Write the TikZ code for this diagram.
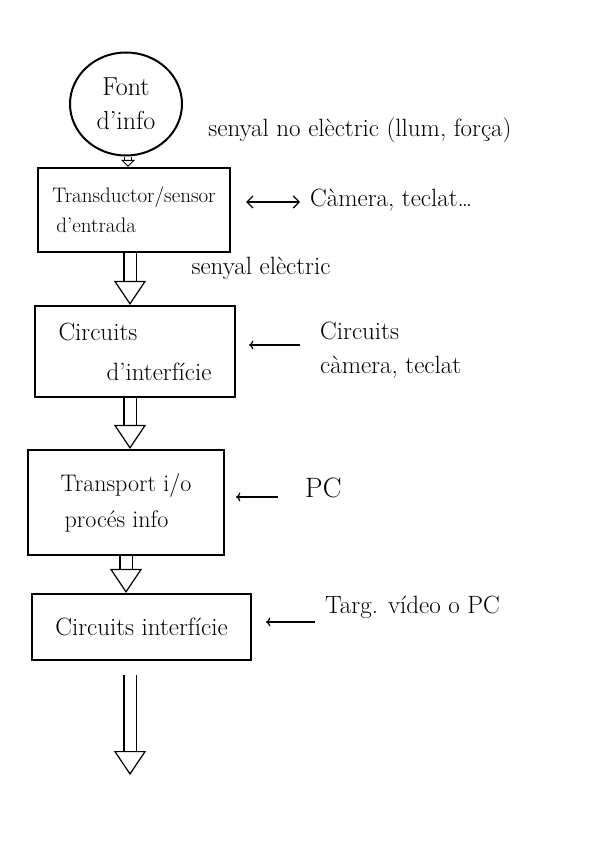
\documentclass[tikz,border=0pt]{standalone}
\usepackage{fontspec}
\usepackage{tikz}
\usetikzlibrary{calc, arrows.meta, shapes.geometric}

\begin{document}
\begin{tikzpicture}[x = 1pt, y = -1pt,
		blok/.style = {draw, line width = 2.2pt, inner sep = 0pt, align = left},
		label/.style = {inner sep = 2pt, align = left, font = \fontsize{25}{34}\selectfont},
		flow/.style = {double, double distance = 11pt, line width = 1.2pt, -{Triangle[open, length = 24pt, width = 32pt, line width = 1.2pt]}},
		side/.style = {line width = 1.2pt, -{Straight Barb[length = 6pt, width = 12pt]}}]
		\useasboundingbox (0,0) rectangle (600,848);
		
		\node [ellipse, draw, line width = 2pt, minimum width = 112pt, minimum height = 103pt, inner sep = 0pt, align = center, font = \fontsize{26}{34}\selectfont] (font) at (126,104) {Font\\d'info};
		
		\node [blok, minimum width = 192pt, minimum height = 84pt, font = \fontsize{21}{30}\selectfont] (trans) at (134,210) {Transductor/sensor\\\hspace*{4pt}d'entrada};
		\node [blok, minimum width = 200pt, minimum height = 91pt, font = \fontsize{25}{40}\selectfont] (circ) at (135,351.5) {Circuits\\\hspace*{48pt}d'interfície};
		\node [blok, minimum width = 196pt, minimum height = 105pt, font = \fontsize{24}{36}\selectfont] (transp) at (126,502.5) {Transport i/o\\\hspace*{4pt}procés info};
		\node [blok, minimum width = 219pt, minimum height = 66pt, font = \fontsize{25}{30}\selectfont] (circint) at (141.5,627) {Circuits interfície};
		
		\node [label] (noelec) at (360,130) {senyal no elèctric (llum, força)};
		\node [label] (elec) at (261,268) {senyal elèctric};
		\node [label, anchor = west] (camera) at (308,200) {Càmera, teclat\dots};
		\node [label, anchor = west] (circcam) at (318,350) {Circuits\\càmera, teclat};
		\node [label, anchor = west, font = \fontsize{28}{34}\selectfont] (pc) at (303,488) {PC};
		\node [label, anchor = west] (targ) at (323,607) {Targ. vídeo o PC};
		
		\coordinate (outa) at (130,675);
		\coordinate (outb) at (130,775);
		
		\draw [flow, double distance = 6pt, -{Triangle[open, length = 7pt, width = 14pt, line width = 1pt]}] (font.south -| 128,0) -- (trans.north -| 128,0);
		\draw [flow] (trans.south -| 130,0) -- (circ.north -| 130,0);
		\draw [flow] (circ.south -| 130,0) -- (transp.north -| 130,0);
		\draw [flow] (transp.south -| 126,0) -- (circint.north -| 126,0);
		\draw [flow] (outa) -- (outb);
		
		\draw [side, {Straight Barb[length = 6pt, width = 12pt]}-{Straight Barb[length = 6pt, width = 12pt]}] ([xshift = 15pt]trans.east |- 0,202) -- ([xshift = -8pt]camera.west |- 0,202);
		\draw [side, <-] ([xshift = 13pt]circ.east |- 0,345) -- ([xshift = -18pt]circcam.west |- 0,345);
		\draw [side, <-] ([xshift = 11pt]transp.east |- 0,497) -- ([xshift = -25pt]pc.west |- 0,497);
		\draw [side, <-] ([xshift = 14pt]circint.east |- 0,622) -- ([xshift = -8pt]targ.west |- 0,622);
	\end{tikzpicture}
\end{document}
